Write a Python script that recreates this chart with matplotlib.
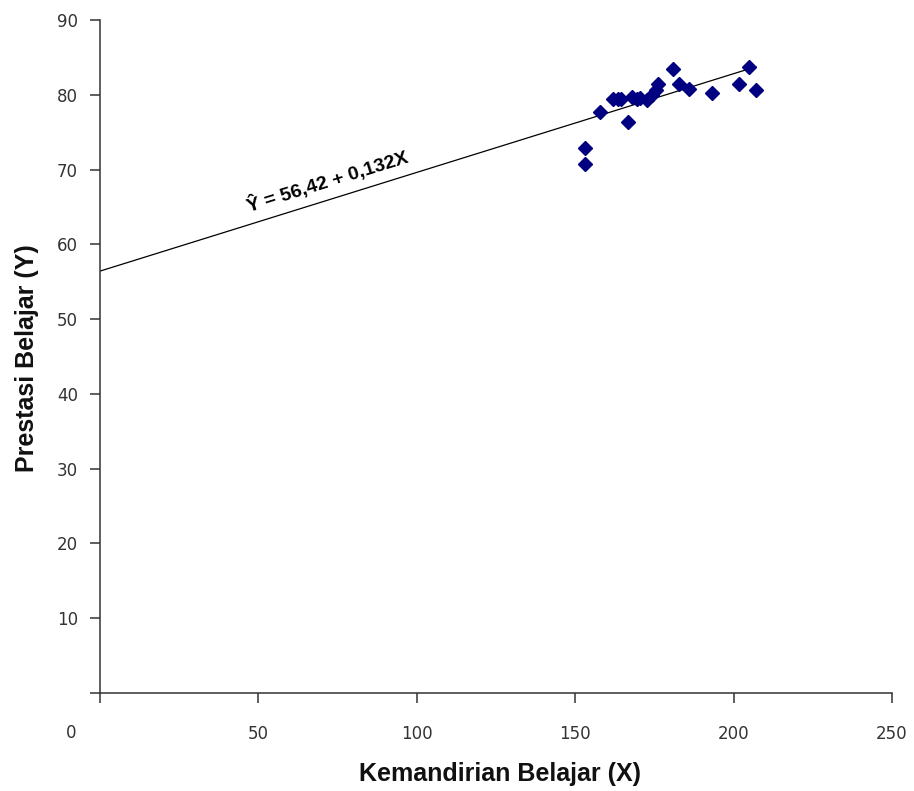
import matplotlib
matplotlib.use("Agg")
import matplotlib.pyplot as plt

# Kemandirian Belajar (X) vs Prestasi Belajar (Y)
x_vals = [153.1, 153.1, 157.8, 161.8, 163.5, 164.6, 166.8, 167.8, 169.6,
          170.5, 172.8, 174.1, 175.4, 176.0, 181.0, 182.8, 186.0, 193.1,
          201.8, 205.0, 207.0]
y_vals = [72.9, 70.8, 77.7, 79.5, 79.5, 79.5, 76.3, 79.7, 79.4,
          79.6, 79.3, 80.0, 80.7, 81.4, 83.4, 81.5, 80.8, 80.3,
          81.4, 83.7, 80.7]

intercept = 56.42
slope = 0.132
line_x = [0, 207]

x_ticks = [0, 50, 100, 150, 200, 250]
x_labels = ["", "50", "100", "150", "200", "250"]
y_ticks = [0, 10, 20, 30, 40, 50, 60, 70, 80, 90]
y_labels = [""] + [str(v) for v in y_ticks[1:]]

fig = plt.figure(figsize=(9.14, 7.91), dpi=100)
ax = fig.add_axes([100 / 914, 1 - 693 / 791, 792 / 914, 673 / 791])

line_y = [intercept + slope * v for v in line_x]
ax.plot(line_x, line_y, color="black", lw=0.9)
ax.plot(x_vals, y_vals, linestyle="none", marker="D", markersize=7.5,
        color="#000080", markeredgecolor="#000080", clip_on=False)

ax.set_xlim(0, 250)
ax.set_ylim(0, 90)
ax.set_xticks(x_ticks, x_labels)
ax.set_yticks(y_ticks, y_labels)
ax.spines["top"].set_visible(False)
ax.spines["right"].set_visible(False)
for s in ("left", "bottom"):
    ax.spines[s].set_color("#333333")
    ax.spines[s].set_linewidth(1.1)
ax.tick_params(axis="x", direction="out", length=7, width=1.1, pad=16,
               labelsize=12, colors="#333333")
ax.tick_params(axis="y", direction="out", length=7, width=1.1, pad=9,
               labelsize=12, colors="#333333")

# lone zero label at the corner
ax.text(-9, -5.4, "0", ha="center", va="center", fontsize=12, color="#333333",
        clip_on=False)

ax.set_xlabel("Kemandirian Belajar (X)", fontsize=18, fontweight="bold",
              family="Liberation Sans", color="#111111")
ax.xaxis.set_label_coords((500 - 100) / 792, -(774 - 693) / 673)
ax.set_ylabel("Prestasi Belajar (Y)", fontsize=18, fontweight="bold",
              family="Liberation Sans", color="#111111")
ax.yaxis.set_label_coords((27 - 100) / 792, (693 - 358) / 673)
ax.xaxis.label.set_va("center")
ax.yaxis.label.set_va("center")

ax.text(47, 64.3, "Ŷ = 56,42 + 0,132X", rotation=17.3, rotation_mode="anchor",
        ha="left", va="baseline", fontsize=14, fontweight="bold",
        family="Liberation Sans")

fig.savefig("out.png", dpi=100)
